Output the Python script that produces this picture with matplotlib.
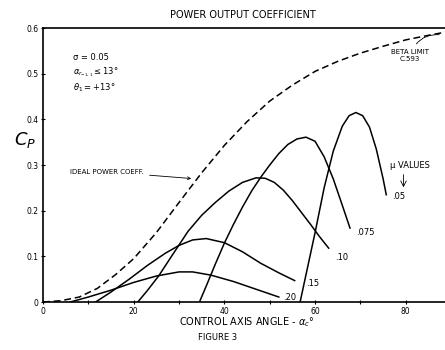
import matplotlib
matplotlib.use("Agg")
import matplotlib.pyplot as plt

# ideal power coefficient (dashed)
ideal_x = [0, 4, 8, 12, 16, 20, 25, 30, 35, 40, 45, 50, 55, 60, 65, 70, 75, 80, 85, 89.3]
ideal_y = [0, 0.003, 0.011, 0.03, 0.06, 0.095, 0.152, 0.218, 0.283, 0.343, 0.395, 0.44, 0.475,
           0.505, 0.527, 0.545, 0.56, 0.574, 0.584, 0.592]

# Cp curves for each mu value
mu20_x = [6, 10, 15, 20, 25, 30, 33, 37, 42, 47, 52]
mu20_y = [0, 0.011, 0.026, 0.043, 0.057, 0.066, 0.066, 0.059, 0.045, 0.028, 0.011]
mu15_x = [11.6, 15, 19, 23, 27, 30, 33, 36, 40, 44, 48, 52, 55.5]
mu15_y = [0, 0.022, 0.05, 0.08, 0.107, 0.124, 0.136, 0.139, 0.13, 0.11, 0.085, 0.064, 0.047]
mu10_x = [20.9, 23, 25.5, 28, 30, 32, 35, 38, 41, 44, 47, 49, 51, 53, 55, 57, 59, 61, 63]
mu10_y = [0, 0.025, 0.057, 0.095, 0.125, 0.155, 0.19, 0.218, 0.243, 0.262, 0.272, 0.271,
          0.262, 0.245, 0.222, 0.196, 0.17, 0.143, 0.118]
mu075_x = [34.5, 36, 38, 40, 42, 44, 46, 48, 50, 52, 54, 56, 58, 60, 62, 64, 66, 67.7]
mu075_y = [0, 0.035, 0.083, 0.129, 0.17, 0.208, 0.243, 0.273, 0.3, 0.325, 0.345, 0.357,
           0.361, 0.352, 0.318, 0.27, 0.212, 0.162]
mu05_x = [56.7, 58, 60, 62, 64, 66, 67.5, 69, 70.5, 72, 73.5, 75, 75.7]
mu05_y = [0, 0.06, 0.152, 0.25, 0.33, 0.385, 0.408, 0.415, 0.408, 0.383, 0.335, 0.27, 0.235]

mu_labels = [".05", ".075", ".10", ".15", ".20"]
mu_label_pos = [(77.0, 0.23), (69.0, 0.153), (64.5, 0.098), (58.0, 0.04), (53.0, 0.01)]

x_ticks = [0, 20, 40, 60, 80]
y_ticks = [0, 0.1, 0.2, 0.3, 0.4, 0.5, 0.6]
y_tick_labels = ["0", "0.1", "0.2", "0.3", "0.4", "0.5", "0.6"]

fig = plt.figure(figsize=(4.45, 3.5), dpi=100)
ax = fig.add_axes([0.0966, 0.137, 0.91, 0.783])

ax.plot(ideal_x, ideal_y, color="black", lw=1.1, ls=(0, (4.5, 2.5)))
for xs, ys in [(mu05_x, mu05_y), (mu075_x, mu075_y), (mu10_x, mu10_y),
               (mu15_x, mu15_y), (mu20_x, mu20_y)]:
    ax.plot(xs, ys, color="black", lw=1.1)

for lab, (lx, ly) in zip(mu_labels, mu_label_pos):
    ax.text(lx, ly, lab, fontsize=6, va="center", ha="left")

ax.set_xlim(0, 89.3)
ax.set_ylim(0, 0.6)
ax.set_xticks(x_ticks)
ax.set_xticks([10, 30, 50, 70], minor=True)
ax.set_yticks(y_ticks)
ax.set_yticklabels(y_tick_labels)
ax.tick_params(axis="both", labelsize=5.5, length=3, width=0.8, direction="inout")
ax.tick_params(axis="x", which="minor", length=3, width=0.8, direction="inout")
ax.tick_params(axis="x", pad=2)
ax.tick_params(axis="y", pad=2)
for side in ["left", "bottom", "top"]:
    ax.spines[side].set_linewidth(1.2)
ax.spines["right"].set_visible(False)

# annotations
ax.text(6.7, 0.536, "σ = 0.05", fontsize=6, va="center")
ax.text(6.7, 0.503, r"$\alpha_{r_{-1,1}}\leq 13°$", fontsize=6, va="center")
ax.text(6.7, 0.47, r"$\theta_1 = +13°$", fontsize=6, va="center")

ax.annotate("IDEAL POWER COEFF.", xy=(33.3, 0.27), xytext=(6, 0.285), fontsize=5,
            va="center", arrowprops=dict(arrowstyle="->", lw=0.6, color="black"))
ax.annotate("BETA LIMIT\nC.593", xy=(88, 0.585), xytext=(81, 0.54), fontsize=5,
            ha="center", va="center", linespacing=1.2,
            arrowprops=dict(arrowstyle="-", lw=0.6, color="black",
                            connectionstyle="arc3,rad=-0.4"))
ax.text(76.5, 0.3, "μ VALUES", fontsize=6, ha="left", va="center")
ax.annotate("", xy=(79.5, 0.245), xytext=(79.5, 0.285),
            arrowprops=dict(arrowstyle="->", lw=0.6, color="black"))

fig.text(0.545, 0.957, "POWER OUTPUT COEFFICIENT", fontsize=7, ha="center", va="center")
fig.text(0.056, 0.6, r"$C_P$", fontsize=13, ha="center", va="center")
fig.text(0.555, 0.08, r"CONTROL AXIS ANGLE - $\alpha_c°$", fontsize=7, ha="center", va="center")
fig.text(0.49, 0.037, "FIGURE 3", fontsize=6, ha="center", va="center")

fig.savefig("out.png", dpi=100)
